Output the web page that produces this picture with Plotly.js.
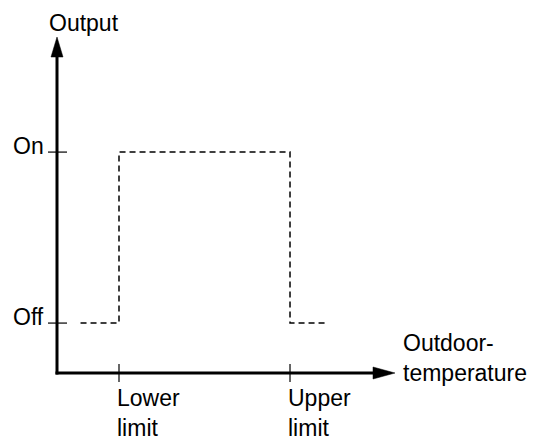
<!DOCTYPE html>
<html>
<head>
<meta charset="utf-8">
<script src="https://cdn.plot.ly/plotly-3.0.1.min.js"></script>
<style>html,body{margin:0;padding:0;background:#fff;}</style>
</head>
<body>
<div id="chart" style="width:533px;height:439px;"></div>
<script>
// ---- data ----
const stepX = [7.75, 10, 10, 20, 20, 22.2];
const stepY = [0, 0, 1, 1, 0, 0];
const xTickVals = [10, 20];
const xTickText = ['Lower<br>limit', 'Upper<br>limit'];
const yTickVals = [0, 1];
const yTickText = ['Off', 'On'];
const xTitle = 'Outdoor-<br>temperature';
const yTitle = 'Output';

// ---- layout geometry ----
const W = 533, H = 439;
const M = {l: 57, r: 138, t: 37, b: 66, pad: 0};
const plotW = W - M.l - M.r, plotH = H - M.t - M.b;
const xRange = [6.374, 26.14];
const yRange = [-0.292, 1.673];
const px = 1 / plotW, py = 1 / plotH; // paper units per pixel
const FONT = {family: 'Liberation Sans, Arial, sans-serif', size: 23, color: '#000'};

const shapes = [];
// y axis line
shapes.push({type: 'line', xref: 'paper', yref: 'paper', x0: 0, x1: 0, y0: -1.5 * py, y1: 1 - 18 * py,
  line: {color: '#000', width: 3}});
// y arrowhead
shapes.push({type: 'path', xref: 'paper', yref: 'paper',
  path: `M ${0} ${1} L ${-6 * px} ${1 - 20 * py} L ${6 * px} ${1 - 20 * py} Z`,
  fillcolor: '#000', line: {color: '#000', width: 0.5}});
// x axis line
shapes.push({type: 'line', xref: 'paper', yref: 'paper', x0: -1.5 * px, x1: 1 - 18 * px, y0: 0, y1: 0,
  line: {color: '#000', width: 3}});
// x arrowhead
shapes.push({type: 'path', xref: 'paper', yref: 'paper',
  path: `M ${1} ${0} L ${1 - 22 * px} ${6 * py} L ${1 - 22 * px} ${-6 * py} Z`,
  fillcolor: '#000', line: {color: '#000', width: 0.5}});
// crossing ticks
xTickVals.forEach(v => shapes.push({type: 'line', xref: 'x', yref: 'paper', x0: v, x1: v,
  y0: -9 * py, y1: 9 * py, line: {color: '#000', width: 1.2}}));
yTickVals.forEach(v => shapes.push({type: 'line', xref: 'paper', yref: 'y', x0: -9 * px, x1: 10 * px,
  y0: v, y1: v, line: {color: '#000', width: 1.2}}));

const annotations = [];
xTickVals.forEach((v, i) => annotations.push({xref: 'x', yref: 'paper', x: v, y: -40 * py,
  xanchor: 'left', yanchor: 'middle', align: 'left', showarrow: false, text: xTickText[i], font: FONT, xshift: -4}));
yTickVals.forEach((v, i) => annotations.push({xref: 'paper', yref: 'y', x: -11 * px, y: v,
  xanchor: 'right', yanchor: 'middle', showarrow: false, text: yTickText[i], font: FONT, yshift: 6}));
annotations.push({xref: 'paper', yref: 'paper', x: 1 + 6 * px, y: 15 * py, xanchor: 'left', yanchor: 'middle',
  align: 'left', showarrow: false, text: xTitle, font: FONT});
annotations.push({xref: 'paper', yref: 'paper', x: 27 * px, y: 1 + 14 * py, xanchor: 'center', yanchor: 'middle',
  showarrow: false, text: yTitle, font: FONT});

const data = [{
  x: stepX, y: stepY, type: 'scatter', mode: 'lines', hoverinfo: 'skip',
  line: {color: '#000', width: 1.5, dash: '6px,4px'}
}];

const layout = {
  width: W, height: H, margin: M, showlegend: false,
  paper_bgcolor: '#fff', plot_bgcolor: '#fff',
  xaxis: {range: xRange, visible: false, fixedrange: true},
  yaxis: {range: yRange, visible: false, fixedrange: true},
  shapes: shapes, annotations: annotations, font: FONT
};

Plotly.newPlot('chart', data, layout, {staticPlot: true, displayModeBar: false});
</script>
</body>
</html>
